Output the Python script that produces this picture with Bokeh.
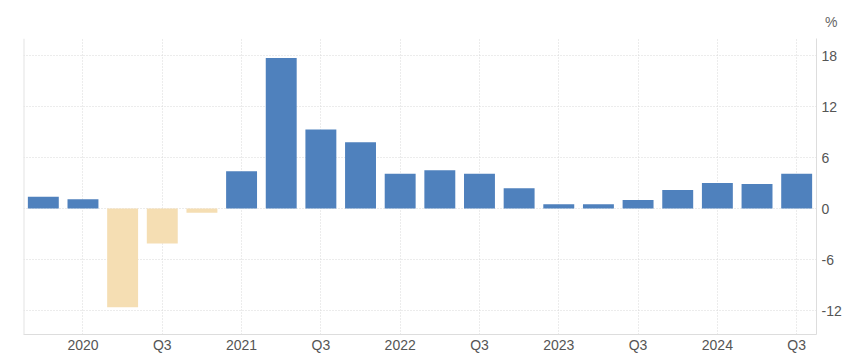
from bokeh.plotting import figure
from bokeh.models import FixedTicker, Range1d, Span, ColumnDataSource, Title
from bokeh.embed import file_html
from bokeh.resources import INLINE

quarters = ["2019 Q4", "2020 Q1", "2020 Q2", "2020 Q3", "2020 Q4",
            "2021 Q1", "2021 Q2", "2021 Q3", "2021 Q4",
            "2022 Q1", "2022 Q2", "2022 Q3", "2022 Q4",
            "2023 Q1", "2023 Q2", "2023 Q3", "2023 Q4",
            "2024 Q1", "2024 Q2", "2024 Q3"]
values = [1.4, 1.1, -11.6, -4.1, -0.5,
          4.4, 17.7, 9.3, 7.8,
          4.1, 4.5, 4.1, 2.4,
          0.5, 0.5, 1.0, 2.2,
          3.0, 2.9, 4.1]
tick_labels = ["2020", "Q3", "2021", "Q3", "2022", "Q3", "2023", "Q3", "2024", "Q3"]
y_ticks = [-12, -6, 0, 6, 12, 18]
unit_label = "%"

POS = "#4f81bd"
NEG = "#f5deb3"

idx = list(range(len(quarters)))
colors = [POS if v >= 0 else NEG for v in values]
src = ColumnDataSource(dict(x=idx, top=values, color=colors, q=quarters))

p = figure(width=850, height=356, output_backend="svg", toolbar_location=None,
           x_range=Range1d(-0.5, len(quarters) - 0.5), y_range=Range1d(-14.8, 20),
           y_axis_location="right", min_border_left=23, min_border_right=34,
           min_border_top=38, min_border_bottom=22)
p.outline_line_color = None
p.background_fill_color = "white"
p.border_fill_color = "white"

p.title = Title(text=unit_label, align="right", offset=-21, standoff=17,
                text_font="Liberation Sans", text_font_size="14px",
                text_font_style="normal", text_color="#666666")

p.vbar(x="x", top="top", bottom=0, width=0.78, fill_color="color", line_color=None, source=src)

label_pos = [i for i in idx if quarters[i].endswith("Q1") or quarters[i].endswith("Q3")]
label_pos = [i for i in label_pos if i >= 1]
p.xaxis.ticker = FixedTicker(ticks=label_pos)
p.xaxis.major_label_overrides = {i: t for i, t in zip(label_pos, tick_labels)}
p.yaxis.ticker = FixedTicker(ticks=y_ticks)
p.yaxis.major_label_overrides = {t: str(t) for t in y_ticks}

p.xgrid.ticker = FixedTicker(ticks=label_pos)
p.ygrid.ticker = FixedTicker(ticks=y_ticks + [20])
for g in (p.xgrid, p.ygrid):
    g.grid_line_color = "#d9d9d9"
    g.grid_line_dash = "1 2"
    g.grid_line_width = 1

for ax in (p.xaxis, p.yaxis):
    ax.major_tick_line_color = None
    ax.minor_tick_line_color = None
    ax.major_tick_out = 0
    ax.major_tick_in = 0
    ax.minor_tick_out = 0
    ax.minor_tick_in = 0
    ax.major_label_text_font = "Liberation Sans"
    ax.major_label_text_font_size = "14px"
    ax.major_label_text_color = "#555555"
p.xaxis.axis_line_color = "#dddddd"
p.yaxis.axis_line_color = "#dddddd"
p.xaxis.major_label_standoff = 2
p.yaxis.major_label_standoff = 5

p.add_layout(Span(location=-0.5, dimension="height", line_color="#e3e3e3", line_width=2))

open("out.html", "w").write(file_html(p, INLINE))
